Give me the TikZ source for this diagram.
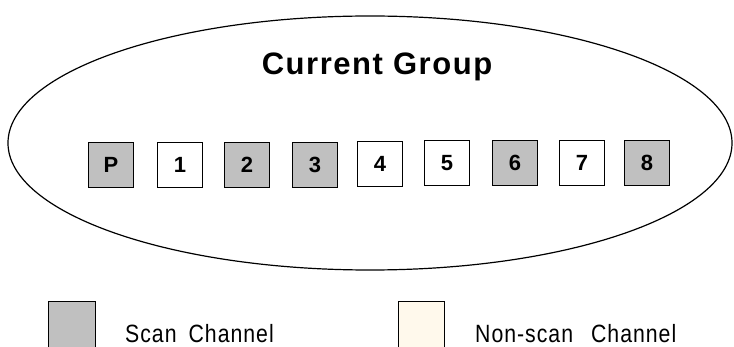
\documentclass[tikz,border=0pt]{standalone}
\usepackage{fontspec}
\setmainfont{Liberation Sans}
\newfontfamily\titlefont[LetterSpace=5]{Liberation Sans}
\newfontfamily\legfont[FakeStretch=0.85,LetterSpace=4]{Liberation Sans}
\definecolor{scangray}{HTML}{C0C0C0}
\definecolor{cream}{HTML}{FFF9EC}
\tikzset{
  chan/.style={draw=black, line width=1pt, minimum width=45pt, minimum height=45pt, inner sep=0pt, font=\fontsize{22}{22}\selectfont\bfseries},
  scan/.style={chan, fill=scangray},
  nonscan/.style={chan, fill=white},
  legbox/.style={draw=black, line width=1pt},
  legtext/.style={anchor=base west, inner sep=0pt, font=\fontsize{25}{25}\legfont}
}
\begin{document}
\begin{tikzpicture}[x=1pt,y=-1pt]
\useasboundingbox (0,0) rectangle (734,347);
\clip (0,0) rectangle (734,347);
\draw[line width=1.2pt] (370,143) ellipse [x radius=362, y radius=127];
\node[anchor=base, inner sep=0pt, font=\fontsize{31}{31}\titlefont\bfseries] (title) at (377,75) {Current\hspace{10pt}Group};
\node[scan] (p) at (111,165) {P};
\node[nonscan] (c1) at (180,165) {1};
\node[scan] (c2) at (247,165) {2};
\node[scan] (c3) at (315,165) {3};
\node[nonscan] (c4) at (380,164) {4};
\node[nonscan] (c5) at (447,163) {5};
\node[scan] (c6) at (515,163) {6};
\node[nonscan] (c7) at (582,163) {7};
\node[scan] (c8) at (647,163) {8};
\draw[legbox, fill=scangray] (48,302) rectangle (95,360);
\draw[legbox, fill=cream] (398,302) rectangle (444,360);
\node[legtext] (l1) at (125,343) {Scan\hspace{12pt}Channel};
\node[legtext] (l2) at (475,343) {Non-scan\hspace{18pt}Channel};
\end{tikzpicture}
\end{document}
